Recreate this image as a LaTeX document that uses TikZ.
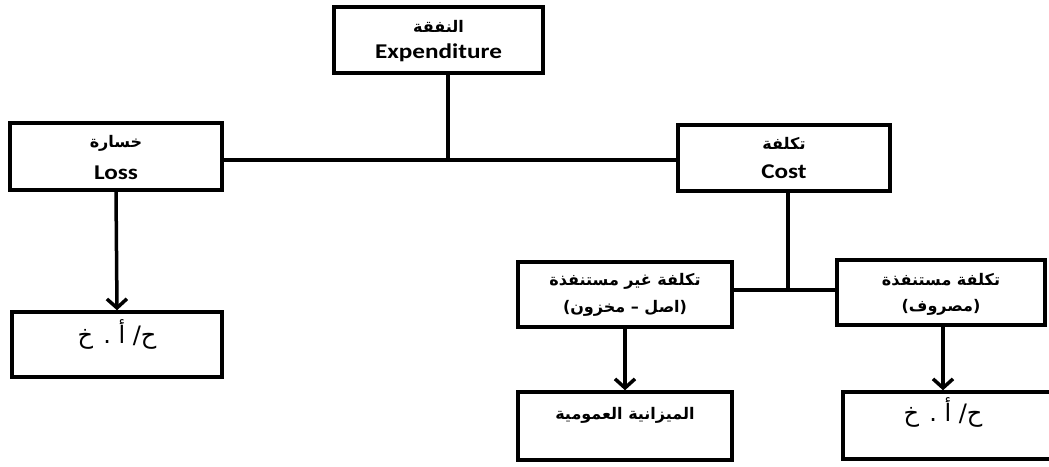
\documentclass[tikz,border=0pt]{standalone}
\usepackage{fontspec}
\usepackage{graphicx}
\setmainfont{Carlito}
\newfontfamily\arabicfont[Script=Arabic]{DejaVu Sans}
\TeXXeTstate=1
\usetikzlibrary{arrows.meta}
\newcommand{\artx}[1]{{\arabicfont\bfseries\fontsize{16}{18}\selectfont\beginR #1\endR}}
\newcommand{\artxr}[1]{{\arabicfont\fontsize{24}{26}\selectfont\beginR #1\endR}}
\newcommand{\entx}[1]{{\bfseries\fontsize{21}{23}\selectfont\scalebox{1.2}[1]{#1}}}
\begin{document}
\begin{tikzpicture}[x=1pt,y=-1pt,
  box/.style={draw, line width=3.5pt, rectangle, inner sep=0pt},
  conn/.style={line width=3.5pt},
  arr/.style={line width=3.5pt, -{Straight Barb[length=9pt,width=20pt,line width=3.5pt]}},
  lbl/.style={inner sep=0pt, anchor=center}]
\useasboundingbox (0,0) rectangle (1049,466);
% boxes
\node[box, minimum width=209pt, minimum height=66pt] (exp) at (438.5,40) {};
\node[box, minimum width=212pt, minimum height=67pt] (loss) at (116,156.5) {};
\node[box, minimum width=210pt, minimum height=65pt] (lossout) at (117,344.5) {};
\node[box, minimum width=212pt, minimum height=66pt] (cost) at (784,158) {};
\node[box, minimum width=214pt, minimum height=65pt] (unexp) at (625,294.5) {};
\node[box, minimum width=208pt, minimum height=65pt] (expd) at (941,292.5) {};
\node[box, minimum width=214pt, minimum height=68pt] (budget) at (625,426) {};
\node[box, minimum width=212pt, minimum height=67pt] (pl) at (949,425.5) {};
% texts
\node[lbl] (t1) at (438.5,26) {\artx{النفقة}};
\node[lbl] (t2) at (438.5,53) {\entx{Expenditure}};
\node[lbl] (t3) at (116,143) {\artx{خسارة}};
\node[lbl] (t4) at (116,173) {\entx{Loss}};
\node[lbl] (t5) at (117,334) {\artxr{ح/ أ . خ}};
\node[lbl] (t6) at (784,143) {\artx{تكلفة}};
\node[lbl] (t7) at (784,172) {\entx{Cost}};
\node[lbl] (t8) at (625,281) {\artx{تكلفة غير مستنفذة}};
\node[lbl] (t9) at (625,308) {\artx{(اصل – مخزون)}};
\node[lbl] (t10) at (941,280) {\artx{تكلفة مستنفذة}};
\node[lbl] (t11) at (941,307) {\artx{(مصروف)}};
\node[lbl] (t12) at (625,415) {\artx{الميزانية العمومية}};
\node[lbl] (t13) at (943,412) {\artxr{ح/ أ . خ}};
% connectors
\coordinate (j1) at (448,160);
\coordinate (j2) at (788,290);
\draw[conn] (exp.south -| j1) -- (j1);
\draw[conn] (loss.east |- j1) -- (cost.west |- j1);
\draw[conn] (cost.south -| j2) -- (j2);
\draw[conn] (unexp.east |- j2) -- (expd.west |- j2);
\draw[arr] (loss.south) -- (lossout.north);
\draw[arr] (unexp.south) -- (budget.north);
\draw[arr] ([xshift=2pt]expd.south) -- ([xshift=2pt]expd.south |- pl.north);
\end{tikzpicture}
\end{document}
